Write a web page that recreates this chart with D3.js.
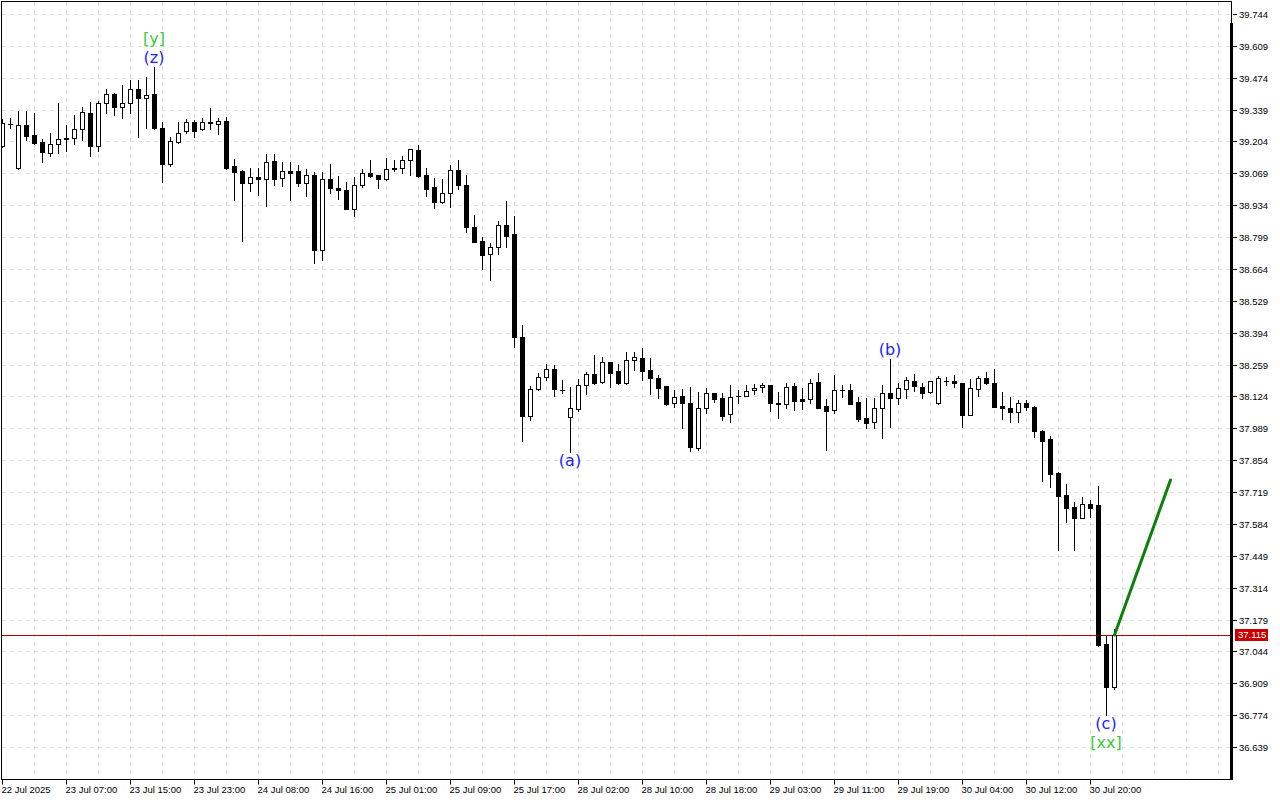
<!DOCTYPE html>
<html><head><meta charset="utf-8">
<script src="https://cdn.jsdelivr.net/npm/d3@7"></script>
<style>body{margin:0;background:#fff}svg{display:block}</style>
</head><body>
<svg id="chart" width="1280" height="800"></svg>
<script>
// ---- DATA (XAGUSD H1) ----
const opens = [39.185,39.278,39.092,39.274,39.231,39.202,39.155,39.193,39.219,39.219,
39.257,39.325,39.185,39.367,39.405,39.350,39.367,39.426,39.388,39.405,
39.261,39.109,39.202,39.248,39.287,39.257,39.287,39.278,39.291,39.100,
39.079,39.028,39.054,39.045,39.121,39.049,39.079,39.079,39.028,39.062,
38.744,39.045,39.007,38.998,38.920,39.020,39.071,39.062,39.045,39.092,
39.092,39.126,39.168,39.062,39.011,38.948,38.986,39.083,39.020,38.842,
38.782,38.727,38.757,38.850,38.812,38.376,38.041,38.156,38.206,38.240,
38.151,38.037,38.071,38.172,38.219,38.185,38.270,38.232,38.181,38.278,
38.287,38.236,38.202,38.168,38.096,38.126,38.096,37.906,38.075,38.139,
38.117,38.050,38.122,38.126,38.151,38.164,38.172,38.096,38.092,38.168,
38.112,38.113,38.185,38.084,38.067,38.151,38.151,38.100,38.033,38.016,
38.075,38.139,38.117,38.156,38.189,38.164,38.143,38.096,38.189,38.189,
38.181,38.045,38.156,38.202,38.181,38.084,38.075,38.058,38.096,38.079,
37.978,37.944,37.800,37.706,37.656,37.609,37.668,37.664,37.075,36.893];
const highs = [39.299,39.304,39.333,39.333,39.325,39.214,39.240,39.367,39.274,39.316,
39.350,39.371,39.376,39.426,39.409,39.443,39.464,39.464,39.477,39.520,
39.287,39.223,39.287,39.299,39.295,39.304,39.346,39.304,39.308,39.130,
39.083,39.092,39.092,39.151,39.151,39.117,39.117,39.104,39.087,39.075,
39.075,39.109,39.058,39.032,39.054,39.087,39.126,39.063,39.134,39.126,
39.142,39.172,39.189,39.092,39.049,39.045,39.104,39.126,39.062,38.893,
38.799,38.774,38.867,38.952,38.888,38.427,38.168,38.223,38.261,38.257,
38.194,38.164,38.198,38.228,38.300,38.291,38.271,38.261,38.312,38.312,
38.329,38.287,38.215,38.169,38.151,38.156,38.164,38.143,38.160,38.140,
38.140,38.172,38.151,38.172,38.177,38.181,38.173,38.143,38.181,38.181,
38.160,38.198,38.223,38.113,38.215,38.172,38.177,38.122,38.117,38.117,
38.172,38.283,38.181,38.206,38.219,38.181,38.190,38.211,38.206,38.215,
38.182,38.198,38.211,38.228,38.240,38.143,38.122,38.109,38.109,38.084,
37.982,37.956,37.804,37.753,37.677,37.698,37.685,37.745,37.109,37.139];
const lows = [39.181,39.261,39.087,39.210,39.193,39.117,39.142,39.155,39.164,39.193,
39.210,39.142,39.164,39.325,39.316,39.304,39.325,39.223,39.261,39.255,
39.032,39.100,39.198,39.240,39.223,39.253,39.257,39.236,39.087,38.956,
38.782,38.994,38.977,38.931,39.020,39.015,38.956,39.015,38.973,38.689,
38.702,38.986,38.960,38.918,38.888,39.011,39.054,39.007,39.041,39.079,
39.071,39.062,39.054,38.973,38.922,38.943,38.926,39.003,38.821,38.778,
38.664,38.617,38.727,38.757,38.333,37.935,38.024,38.151,38.194,38.126,
38.139,37.889,38.062,38.134,38.177,38.181,38.164,38.177,38.177,38.236,
38.194,38.134,38.117,38.088,38.079,37.990,37.893,37.897,38.054,38.100,
38.024,38.016,38.096,38.125,38.134,38.143,38.062,38.033,38.075,38.067,
38.071,38.096,38.075,37.897,38.054,38.122,38.091,38.020,37.990,37.990,
37.948,37.995,38.092,38.117,38.147,38.117,38.139,38.092,38.172,38.164,
37.995,38.044,38.126,38.177,38.078,38.028,38.016,38.016,38.067,37.952,
37.766,37.740,37.474,37.592,37.474,37.608,37.613,37.067,36.775,36.885];
const closes = [39.282,39.279,39.274,39.227,39.198,39.159,39.193,39.214,39.214,39.257,
39.329,39.185,39.367,39.405,39.350,39.367,39.426,39.388,39.401,39.259,
39.109,39.206,39.240,39.287,39.248,39.287,39.282,39.291,39.092,39.075,
39.028,39.054,39.045,39.117,39.045,39.079,39.071,39.028,39.062,38.744,
39.045,39.007,38.998,38.920,39.020,39.071,39.058,39.045,39.087,39.086,
39.126,39.171,39.058,39.003,38.948,38.986,39.083,39.020,38.842,38.780,
38.723,38.757,38.850,38.804,38.376,38.041,38.156,38.206,38.240,38.156,
38.150,38.075,38.172,38.219,38.181,38.270,38.223,38.181,38.278,38.291,
38.232,38.202,38.160,38.092,38.122,38.096,37.910,38.075,38.139,38.113,
38.041,38.122,38.126,38.147,38.160,38.172,38.096,38.092,38.164,38.105,
38.106,38.181,38.077,38.062,38.151,38.152,38.094,38.028,38.012,38.075,
38.139,38.117,38.160,38.194,38.168,38.139,38.189,38.202,38.190,38.181,
38.045,38.160,38.202,38.181,38.081,38.075,38.058,38.096,38.079,37.978,
37.935,37.795,37.702,37.651,37.609,37.668,37.651,37.071,36.893,37.115];

const priceTicks = [39.744,39.609,39.474,39.339,39.204,39.069,38.934,38.799,38.664,38.529,38.394,38.259,
38.124,37.989,37.854,37.719,37.584,37.449,37.314,37.179,37.044,36.909,36.774,36.639];
const timeLabels = ["22 Jul 2025","23 Jul 07:00","23 Jul 15:00","23 Jul 23:00","24 Jul 08:00","24 Jul 16:00",
"25 Jul 01:00","25 Jul 09:00","25 Jul 17:00","28 Jul 02:00","28 Jul 10:00","28 Jul 18:00",
"29 Jul 03:00","29 Jul 11:00","29 Jul 19:00","30 Jul 04:00","30 Jul 12:00","30 Jul 20:00"];
const timeLabelBars = [0,8,16,24,32,40,48,56,64,72,80,88,96,104,112,120,128,136];
const currentPrice = 37.115;
const projectionBars = [139,146];
const projectionPrices = [37.115,37.770];
const waveText = ["(z)","[y]","(a)","(b)","(c)","[xx]"];
const waveBar = [19,19,71,111,138,138];
const waveSide = ["high","high","low","high","low","low"];
const waveDegree = ["minor","major","minor","minor","minor","major"];

// ---- LAYOUT ----
const L = 2, T = 2, R = 1231, B = 779;
const svg = d3.select("#chart");
svg.append("rect").attr("width",1280).attr("height",800).attr("fill","#fff");

const x = d3.scaleLinear().domain([0,1]).range([2.5,10.5]);
const y = d3.scaleLinear().domain([36.639,39.744]).range([747,14]).interpolate(d3.interpolateRound);

// grid
const grid = svg.append("g").attr("stroke","#e2e2e2").attr("stroke-dasharray","4,4").attr("stroke-width",1);
priceTicks.forEach(t => grid.append("line").attr("x1",L).attr("x2",R).attr("y1",y(t)+0.5).attr("y2",y(t)+0.5));
d3.range(4,156,4).forEach(i => grid.append("line").attr("x1",x(i)).attr("x2",x(i)).attr("y1",T).attr("y2",B));

// clip
svg.append("clipPath").attr("id","plot").append("rect").attr("x",L).attr("y",T).attr("width",R-L).attr("height",B-T);
const plot = svg.append("g").attr("clip-path","url(#plot)");

// bid line
plot.append("line").attr("x1",L).attr("x2",R).attr("y1",y(currentPrice)+0.5).attr("y2",y(currentPrice)+0.5)
  .attr("stroke","#b40000").attr("stroke-width",1);

// candles
const bars = d3.range(opens.length).map(i => ({i,o:opens[i],h:highs[i],l:lows[i],c:closes[i]}));
const cg = plot.append("g").selectAll("g").data(bars).join("g");
cg.append("line").attr("x1",d=>x(d.i)).attr("x2",d=>x(d.i))
  .attr("y1",d=>y(d.h)).attr("y2",d=>y(d.l)+1).attr("stroke","#000").attr("stroke-width",1);
cg.each(function(d){
  const g = d3.select(this);
  const top = y(Math.max(d.o,d.c)), bot = y(Math.min(d.o,d.c));
  if (d.c < d.o) {
    g.append("rect").attr("x",x(d.i)-2.5).attr("y",top).attr("width",5).attr("height",Math.max(1,bot-top+1)).attr("fill","#000");
  } else if (bot - top < 2) {
    g.append("rect").attr("x",x(d.i)-2.5).attr("y",top).attr("width",5).attr("height",1).attr("fill","#000");
  } else {
    g.append("rect").attr("x",x(d.i)-2).attr("y",top+0.5).attr("width",4).attr("height",bot-top)
      .attr("fill","#fff").attr("stroke","#000").attr("stroke-width",1);
  }
});

// projection
plot.append("line").attr("x1",x(projectionBars[0])).attr("y1",y(projectionPrices[0]))
  .attr("x2",x(projectionBars[1])).attr("y2",y(projectionPrices[1]))
  .attr("stroke","#0c7f0c").attr("stroke-width",3).attr("stroke-linecap","round");

// wave labels
const stackCount = {};
waveText.forEach((t,k) => {
  const b = waveBar[k], side = waveSide[k];
  const key = b+side; const n = stackCount[key] || 0; stackCount[key] = n+1;
  const base = side === "high" ? y(highs[b]) - 4 - n*19.5 : y(lows[b]) + 13.5 + n*19.5;
  svg.append("text").attr("x",x(b)-0.5).attr("y",base).attr("text-anchor","middle")
    .attr("font-family","DejaVu Sans, sans-serif").attr("font-size",16)
    .attr("fill", waveDegree[k]==="major" ? "#3dc83d" : "#1e1ef5").text(t);
});

// frame
svg.append("rect").attr("x",L-0.5).attr("y",T-0.5).attr("width",R-L+1).attr("height",B-T+1)
  .attr("fill","none").attr("stroke","#000").attr("stroke-width",1);
svg.append("rect").attr("x",1230).attr("y",23).attr("width",3).attr("height",B-23+1).attr("fill","#000");

// axes
const fmt = d3.format(".3f");
const yAxis = d3.axisRight(y).tickValues(priceTicks).tickFormat(fmt).tickSize(4).tickPadding(2).offset(0.5);
const ya = svg.append("g").attr("transform",`translate(${1233},0)`).call(yAxis);
ya.select(".domain").remove();
ya.selectAll("text").attr("font-family","Liberation Sans, Arial, sans-serif").attr("font-size",9.5).attr("fill","#000").attr("dy","0.34em");
ya.selectAll("line").attr("stroke","#000");

const xAxis = d3.axisBottom(x).tickValues(timeLabelBars).tickFormat((d,i)=>timeLabels[i]).tickSize(5).tickPadding(2).offset(0);
const xa = svg.append("g").attr("transform",`translate(0,${B+0.5})`).call(xAxis);
xa.select(".domain").remove();
xa.selectAll("text").attr("font-family","Liberation Sans, Arial, sans-serif").attr("font-size",9.5)
  .attr("fill","#000").attr("text-anchor","start").attr("x",-1).attr("dy","0.71em");
xa.selectAll("line").attr("stroke","#000");

// current price tag
const cy = y(currentPrice);
svg.append("rect").attr("x",1235).attr("y",cy-6).attr("width",33).attr("height",12).attr("fill","#c80000");
svg.append("text").attr("x",1238).attr("y",cy).attr("dy","0.34em").attr("font-family","Liberation Sans, Arial, sans-serif")
  .attr("font-size",9.5).attr("fill","#fff").text(fmt(currentPrice));
</script>
</body></html>
